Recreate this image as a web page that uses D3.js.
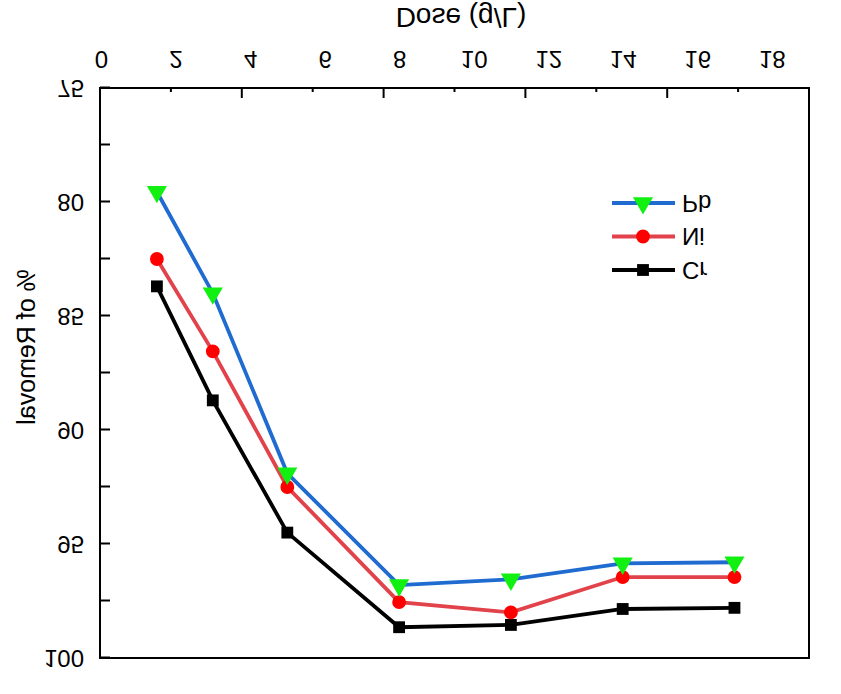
<!DOCTYPE html>
<html lang="en">
<head>
    <meta charset="utf-8">
    <title>Removal vs dose</title>
    <script src="https://cdn.jsdelivr.net/npm/d3@7"></script>
    <style>
        body { margin: 0; background: #fff; }
        text { font-family: "Liberation Sans", Arial, sans-serif; fill: #000; }
    </style>
</head>
<body>
<script>
    var w = 841;
    var h = 694;

    // data
    var dose = [1.5, 3, 5, 8, 11, 14, 17];
    var pb = [79.55, 84.0, 91.9, 96.8, 96.55, 95.85, 95.8];
    var ni = [82.5, 86.55, 92.5, 97.55, 98.0, 96.45, 96.45];
    var cr = [83.7, 88.7, 94.5, 98.65, 98.55, 97.85, 97.8];
    var xTicks = [0, 2, 4, 6, 8, 10, 12, 14, 16, 18];
    var yTicks = [75, 80, 85, 90, 95, 100];
    var names = ["Cr", "Ni", "Pb"];

    var series = [
        { name: "Cr", values: cr, line: "#000000", fill: "#000000", sym: d3.symbolSquare, size: 140 },
        { name: "Ni", values: ni, line: "#e2424a", fill: "#ff0000", sym: d3.symbolCircle, size: 150 },
        { name: "Pb", values: pb, line: "#1f6bd0", fill: "#12f012", sym: d3.symbolTriangle, size: 175 }
    ];

    var pLeft = 100, pRight = 809, pTop = 36, pBottom = 606;

    var svg = d3.select("body").append("svg")
        .attr("width", w)
        .attr("height", h);

    // the whole figure is mirrored top to bottom
    var g = svg.append("g")
        .attr("transform", "translate(0," + h + ") scale(1,-1)");

    var xScale = d3.scaleLinear().domain([0, 19]).range([101, 809]);
    var yScale = d3.scaleLinear().domain([75, 100]).range([pBottom, pTop]);
    var tickScale = d3.scaleLinear().domain([0, 10]).range([pLeft, pRight]);

    // frame
    g.append("rect")
        .attr("x", pLeft).attr("y", pTop)
        .attr("width", pRight - pLeft).attr("height", pBottom - pTop)
        .attr("fill", "none").attr("stroke", "#000").attr("stroke-width", 2);

    // x tick marks (alternating long / short)
    g.selectAll(".xtick")
        .data(d3.range(1, 10))
        .enter().append("line")
        .attr("x1", function (d) { return tickScale(d); })
        .attr("x2", function (d) { return tickScale(d); })
        .attr("y1", pBottom)
        .attr("y2", function (d) { return pBottom - (d % 2 === 0 ? 10 : 4); })
        .attr("stroke", "#000").attr("stroke-width", 2);

    // x labels
    var xAxis = g.append("g")
        .attr("transform", "translate(0," + pBottom + ")")
        .call(d3.axisBottom(xScale).tickValues(xTicks).tickSize(0).tickFormat(d3.format("d")));
    xAxis.select(".domain").remove();
    xAxis.selectAll("text")
        .attr("y", 29).attr("dy", "0.35em")
        .style("font-size", "24px")
        .style("font-family", "'Liberation Sans', Arial, sans-serif");

    // y axis
    var yAxis = g.append("g")
        .attr("transform", "translate(" + pLeft + ",0)")
        .call(d3.axisLeft(yScale).tickValues(d3.range(75, 100.1, 2.5)).tickSize(-10).tickPadding(16)
            .tickFormat(function (d) { return yTicks.indexOf(d) >= 0 ? d : ""; }));
    yAxis.select(".domain").remove();
    yAxis.selectAll("line").attr("stroke-width", 2);
    yAxis.selectAll("text")
        .style("font-size", "24px")
        .style("font-family", "'Liberation Sans', Arial, sans-serif");

    // axis titles
    g.append("text")
        .attr("x", 461).attr("y", 676)
        .attr("text-anchor", "middle").attr("dy", "0.35em")
        .style("font-size", "28px")
        .text("Dose (g/L)");

    g.append("text")
        .attr("transform", "translate(26,347) rotate(-90)")
        .attr("text-anchor", "middle").attr("dy", "0.35em")
        .style("font-size", "25px")
        .text("% of Removal");

    var line = d3.line()
        .x(function (d, i) { return xScale(dose[i]); })
        .y(function (d) { return yScale(d); });

    series.forEach(function (s) {
        g.append("path")
            .datum(s.values)
            .attr("d", line)
            .attr("fill", "none")
            .attr("stroke", s.line)
            .attr("stroke-width", 3.8);

        g.selectAll(".m" + s.name)
            .data(s.values)
            .enter().append("path")
            .attr("transform", function (d, i) {
                return "translate(" + xScale(dose[i]) + "," + yScale(d) + ")";
            })
            .attr("d", d3.symbol().type(s.sym).size(s.size))
            .attr("fill", s.fill);
    });

    // legend
    var legend = g.append("g").attr("transform", "translate(612,424)");
    series.forEach(function (s, i) {
        var row = legend.append("g").attr("transform", "translate(0," + i * 33.5 + ")");
        row.append("line")
            .attr("x1", 0).attr("x2", 63)
            .attr("stroke", s.line).attr("stroke-width", 3.8);
        row.append("path")
            .attr("transform", "translate(31,0)")
            .attr("d", d3.symbol().type(s.sym).size(s.size))
            .attr("fill", s.fill);
        row.append("text")
            .attr("x", 70).attr("dy", "0.35em")
            .style("font-size", "24px")
            .text(names[i]);
    });
</script>
</body>
</html>
